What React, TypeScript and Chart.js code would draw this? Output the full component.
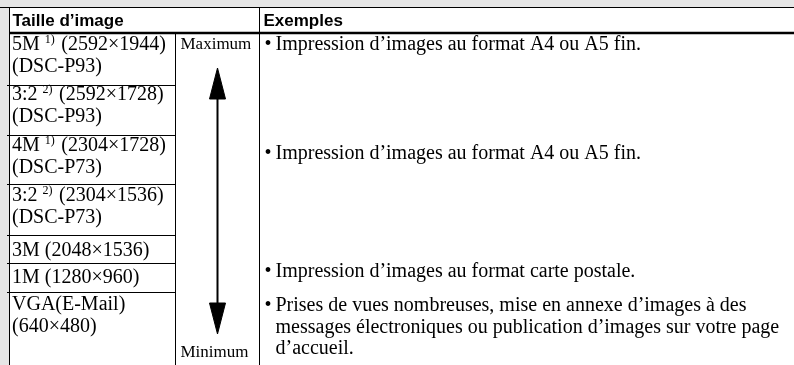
import React, { useEffect, useRef } from "react";
import { Chart, registerables } from "chart.js";

Chart.register(...registerables);

// ---------- content ----------
const headers = ["Taille d’image", "Exemples"];
const sizeLabels: string[][] = [
  ["5M ^1)^ (2592×1944)", "(DSC-P93)"],
  ["3:2 ^2)^ (2592×1728)", "(DSC-P93)"],
  ["4M ^1)^ (2304×1728)", "(DSC-P73)"],
  ["3:2 ^2)^ (2304×1536)", "(DSC-P73)"],
  ["3M (2048×1536)"],
  ["1M (1280×960)"],
  ["VGA(E-Mail)", "(640×480)"],
];
const rangeLabels = ["Maximum", "Minimum"];
const exampleTexts: string[][] = [
  ["Impression d’images au format A4 ou A5 fin."],
  ["Impression d’images au format A4 ou A5 fin."],
  ["Impression d’images au format carte postale."],
  [
    "Prises de vues nombreuses, mise en annexe d’images à des",
    "messages électroniques ou publication d’images sur votre page",
    "d’accueil.",
  ],
];

// ---------- layout (table units = px of the reference) ----------
const W = 794;
const H = 365;
const tableTop = 7.5;
const tableLeft = 9.5;
const colEdges = [9.5, 175.5, 259.5];
const headerBottom = 33;
const rowEdges = [33, 85.5, 135.5, 184.5, 235.5, 263.5, 292.5];
const rowFirstBaseline = [50, 100, 151, 201, 256, 283, 310];
const exampleBaselines = [50, 159, 277, 311];
const lineGap = 21.5;
const arrowX = 217.5;
const arrowTopTip = 68;
const arrowBottomTip = 334;
const arrowHeadH = 31;
const arrowHeadHalfW = 8;

const SERIF = '"Liberation Serif", "Times New Roman", serif';
const SANS = '"Liberation Sans", Arial, sans-serif';
const BODY = 20;

function seg(x1: number, y1: number, x2: number, y2: number, w: number) {
  return {
    type: "scatter" as const,
    data: [
      { x: x1, y: y1 },
      { x: x2, y: y2 },
    ],
    showLine: true,
    borderColor: "#000",
    borderWidth: w,
    pointRadius: 0,
    pointHoverRadius: 0,
    fill: false,
    clip: false as any,
  };
}

function tri(pts: { x: number; y: number }[]) {
  return {
    type: "scatter" as const,
    data: [...pts, pts[0]],
    showLine: true,
    borderColor: "#000",
    borderWidth: 1,
    backgroundColor: "#000",
    pointRadius: 0,
    pointHoverRadius: 0,
    fill: "shape" as any,
    clip: false as any,
  };
}

function drawRich(ctx: CanvasRenderingContext2D, text: string, x: number, y: number, size: number) {
  const parts = text.split("^");
  let cx = x;
  parts.forEach((p, i) => {
    const sup = i % 2 === 1;
    ctx.font = `${sup ? Math.round(size * 0.62) : size}px ${SERIF}`;
    ctx.fillText(p, cx, sup ? y - size * 0.36 : y);
    cx += ctx.measureText(p).width + (sup ? 1.5 : 0);
  });
}

const tablePlugin = {
  id: "tablePlugin",
  beforeDraw(chart: any) {
    const { ctx, scales } = chart;
    const xs = scales.x;
    const ys = scales.y;
    ctx.save();
    ctx.fillStyle = "#e6e6e6";
    ctx.fillRect(0, 0, chart.width, chart.height);
    ctx.fillStyle = "#ffffff";
    const l = xs.getPixelForValue(tableLeft);
    const t = ys.getPixelForValue(tableTop);
    ctx.fillRect(l, t, xs.getPixelForValue(W) - l, ys.getPixelForValue(H) - t);
    ctx.restore();
  },
  afterDatasetsDraw(chart: any) {
    const { ctx, scales } = chart;
    const xs = scales.x;
    const ys = scales.y;
    const px = (v: number) => xs.getPixelForValue(v);
    const py = (v: number) => ys.getPixelForValue(v);
    ctx.save();
    ctx.fillStyle = "#000";
    ctx.textBaseline = "alphabetic";
    ctx.textAlign = "left";
    // headers
    ctx.font = `bold 17px ${SANS}`;
    ctx.fillText(headers[0], px(colEdges[0] + 3), py(26));
    ctx.fillText(headers[1], px(colEdges[2] + 4), py(26));
    // size column
    sizeLabels.forEach((lines, r) => {
      lines.forEach((ln, k) => {
        drawRich(ctx, ln, px(colEdges[0] + 2.5), py(rowFirstBaseline[r] + k * lineGap), BODY);
      });
    });
    // range labels
    ctx.font = `17px ${SERIF}`;
    ctx.fillText(rangeLabels[0], px(colEdges[1] + 5), py(49));
    ctx.fillText(rangeLabels[1], px(colEdges[1] + 5), py(357));
    // examples
    exampleTexts.forEach((lines, r) => {
      ctx.font = `${BODY}px ${SERIF}`;
      ctx.fillText("•", px(colEdges[2] + 5), py(exampleBaselines[r]));
      lines.forEach((ln, k) => {
        ctx.fillText(ln, px(colEdges[2] + 16), py(exampleBaselines[r] + k * lineGap));
      });
    });
    ctx.restore();
  },
};

export default function App() {
  const ref = useRef<HTMLCanvasElement | null>(null);
  useEffect(() => {
    document.body.style.margin = "0";
    const datasets: any[] = [];
    // outer rules
    datasets.push(seg(0, tableTop, W, tableTop, 1));
    datasets.push(seg(tableLeft, tableTop, tableLeft, H, 1));
    datasets.push(seg(tableLeft, headerBottom, W, headerBottom, 2.5));
    datasets.push(seg(colEdges[1], headerBottom, colEdges[1], H, 1));
    datasets.push(seg(colEdges[2], tableTop, colEdges[2], H, 1));
    rowEdges.slice(1).forEach((y) => datasets.push(seg(7, y, colEdges[1], y, 1)));
    // arrow
    datasets.push(seg(arrowX, arrowTopTip + arrowHeadH - 2, arrowX, arrowBottomTip - arrowHeadH + 2, 2));
    datasets.push(
      tri([
        { x: arrowX, y: arrowTopTip },
        { x: arrowX + arrowHeadHalfW, y: arrowTopTip + arrowHeadH },
        { x: arrowX - arrowHeadHalfW, y: arrowTopTip + arrowHeadH },
      ])
    );
    datasets.push(
      tri([
        { x: arrowX, y: arrowBottomTip },
        { x: arrowX + arrowHeadHalfW, y: arrowBottomTip - arrowHeadH },
        { x: arrowX - arrowHeadHalfW, y: arrowBottomTip - arrowHeadH },
      ])
    );
    const chart = new Chart(ref.current as HTMLCanvasElement, {
      type: "scatter",
      data: { datasets },
      options: {
        animation: false,
        responsive: true,
        maintainAspectRatio: false,
        layout: { padding: 0 },
        events: [],
        plugins: { legend: { display: false }, tooltip: { enabled: false } },
        scales: {
          x: { type: "linear", min: 0, max: W, display: false },
          y: { type: "linear", min: 0, max: H, reverse: true, display: false },
        },
      },
      plugins: [tablePlugin],
    });
    return () => chart.destroy();
  }, []);
  return (
    <div style={{ width: W, height: H, position: "relative" }}>
      <canvas ref={ref} />
    </div>
  );
}
